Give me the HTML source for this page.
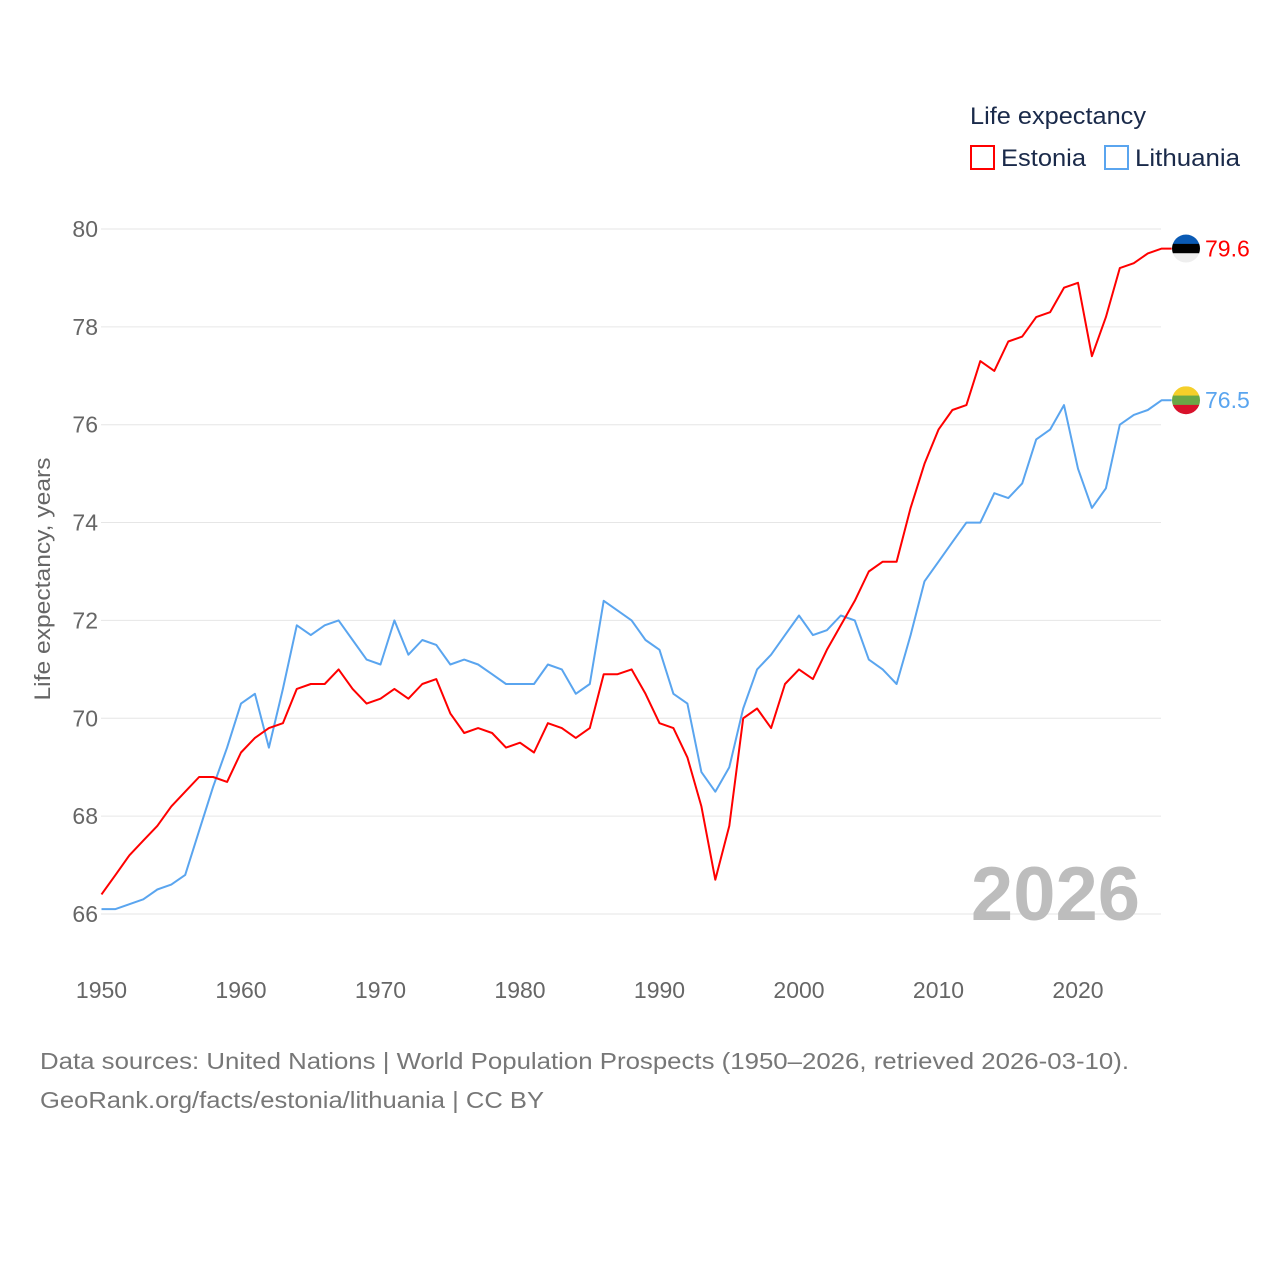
<!DOCTYPE html>
<html><head><meta charset="utf-8">
<style>
body{margin:0;background:#fff;width:1280px;height:1280px;overflow:hidden;font-family:"Liberation Sans",sans-serif}
svg text{font-family:"Liberation Sans",sans-serif}
</style></head>
<body>
<svg id="chart" width="1280" height="1280" xmlns="http://www.w3.org/2000/svg">
<g id="grid"></g>
<g id="yticks"></g>
<g id="xticks"></g>
<text transform="translate(50,579) rotate(-90)" text-anchor="middle" font-size="22" fill="#666" textLength="243" lengthAdjust="spacingAndGlyphs">Life expectancy, years</text>
<text x="1140" y="920" text-anchor="end" font-size="76" font-weight="bold" fill="#bdbdbd">2026</text>
<g id="series"></g>
<g>
<text x="970" y="124" font-size="24" fill="#1a2a4a" textLength="176" lengthAdjust="spacingAndGlyphs">Life expectancy</text>
<rect x="971" y="146" width="23" height="23" fill="none" stroke="#ff0000" stroke-width="2"/>
<text x="1001" y="166" font-size="24" fill="#1a2a4a" textLength="85" lengthAdjust="spacingAndGlyphs">Estonia</text>
<rect x="1105" y="146" width="23" height="23" fill="none" stroke="#5aa5ef" stroke-width="2"/>
<text x="1135" y="166" font-size="24" fill="#1a2a4a" textLength="105" lengthAdjust="spacingAndGlyphs">Lithuania</text>
</g>
<text x="40" y="1069" font-size="23" fill="#777" textLength="1089" lengthAdjust="spacingAndGlyphs">Data sources: United Nations | World Population Prospects (1950–2026, retrieved 2026-03-10).</text>
<text x="40" y="1108" font-size="23" fill="#777" textLength="504" lengthAdjust="spacingAndGlyphs">GeoRank.org/facts/estonia/lithuania | CC BY</text>
</svg>
<script>
const years=[];for(let y=1950;y<=2026;y++)years.push(y);
const estonia=[66.4,66.8,67.2,67.5,67.8,68.2,68.5,68.8,68.8,68.7,69.3,69.6,69.8,69.9,70.6,70.7,70.7,71.0,70.6,70.3,70.4,70.6,70.4,70.7,70.8,70.1,69.7,69.8,69.7,69.4,69.5,69.3,69.9,69.8,69.6,69.8,70.9,70.9,71.0,70.5,69.9,69.8,69.2,68.2,66.7,67.8,70.0,70.2,69.8,70.7,71.0,70.8,71.4,71.9,72.4,73.0,73.2,73.2,74.3,75.2,75.9,76.3,76.4,77.3,77.1,77.7,77.8,78.2,78.3,78.8,78.9,77.4,78.2,79.2,79.3,79.5,79.6];
const lithuania=[66.1,66.1,66.2,66.3,66.5,66.6,66.8,67.7,68.6,69.4,70.3,70.5,69.4,70.6,71.9,71.7,71.9,72.0,71.6,71.2,71.1,72.0,71.3,71.6,71.5,71.1,71.2,71.1,70.9,70.7,70.7,70.7,71.1,71.0,70.5,70.7,72.4,72.2,72.0,71.6,71.4,70.5,70.3,68.9,68.5,69.0,70.2,71.0,71.3,71.7,72.1,71.7,71.8,72.1,72.0,71.2,71.0,70.7,71.7,72.8,73.2,73.6,74.0,74.0,74.6,74.5,74.8,75.7,75.9,76.4,75.1,74.3,74.7,76.0,76.2,76.3,76.5];
const yTicks=[66,68,70,72,74,76,78,80];
const xTicks=[1950,1960,1970,1980,1990,2000,2010,2020];
const NS="http://www.w3.org/2000/svg";
const X=y=>101.5+(y-1950)*13.95;
const Y=v=>914-(v-66)*48.93;
function mk(tag,attrs,parent){const e=document.createElementNS(NS,tag);for(const k in attrs)e.setAttribute(k,attrs[k]);parent.appendChild(e);return e;}
const grid=document.getElementById('grid'),yt=document.getElementById('yticks'),xt=document.getElementById('xticks'),ser=document.getElementById('series');
yTicks.forEach(v=>{
 const l=mk('line',{x1:101,x2:1161,y1:Y(v),y2:Y(v),stroke:'#e6e6e6','stroke-width':1},grid);
 
 
 const t=mk('text',{x:98,y:Y(v)+8,'text-anchor':'end','font-size':23,fill:'#666'},yt);
 t.textContent=v;
 
 
});
xTicks.forEach(v=>{
 const t=mk('text',{x:X(v),y:998,'text-anchor':'middle','font-size':23,fill:'#666'},xt);
 t.textContent=v;
 
 
});
function line(data,color,name){
 let d=data.map((v,i)=>(i?'L':'M')+X(years[i]).toFixed(1)+','+Y(v).toFixed(1)).join('');
 d+='L'+(X(years[years.length-1])+10).toFixed(1)+','+Y(data[data.length-1]).toFixed(1);
 const p=mk('path',{d:d,fill:'none',stroke:color,'stroke-width':2,'stroke-linejoin':'round'},ser);
 
 
}
line(lithuania,'#5aa5ef','lithuania');
line(estonia,'#ff0000','estonia');
function endLabel(data,color,name,flag){
 const v=data[data.length-1],cx=1186,cy=Y(v);
 const g=mk('g',{},ser);
 
 
 const cp=mk('clipPath',{id:'c'+name},g);mk('circle',{cx:cx,cy:cy,r:14},cp);
 const fg=mk('g',{'clip-path':'url(#c'+name+')'},g);
 flag.forEach((c,i)=>mk('rect',{x:cx-14,y:cy-14+i*28/3,width:28,height:28/3+0.5,fill:c},fg));
 const t=mk('text',{x:1205,y:cy+8,'font-size':23,fill:color},g);
 t.textContent=v.toFixed(1);
}
endLabel(estonia,'#ff0000','estonia',['#0a5ab4','#000','#eee']);
endLabel(lithuania,'#5aa5ef','lithuania',['#f5cf2a','#6aa846','#d8122b']);
</script>
</body></html>
